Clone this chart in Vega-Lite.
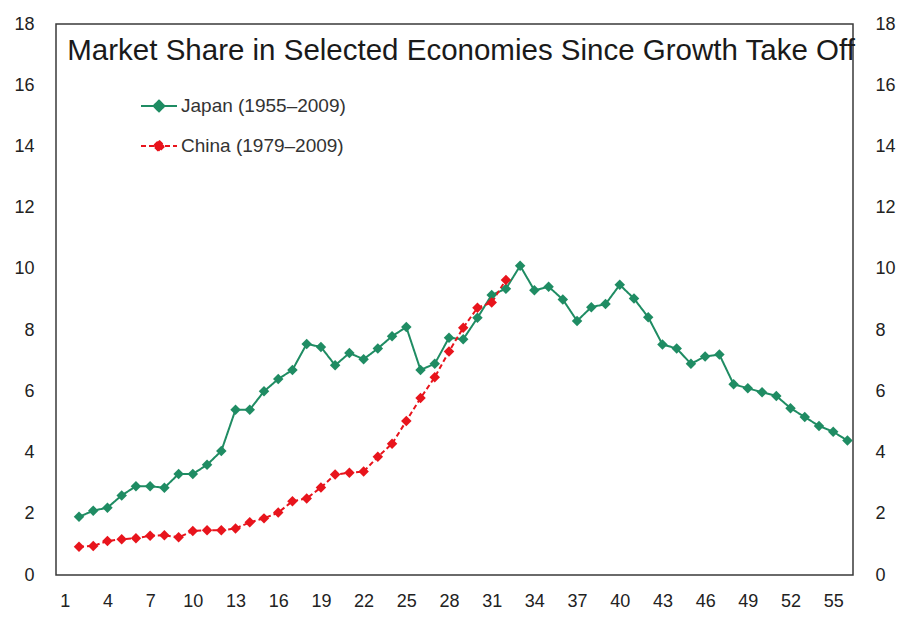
{
  "$schema": "https://vega.github.io/schema/vega-lite/v6.json",
  "width": 797,
  "height": 551,
  "autosize": {"type": "none"},
  "padding": {"left": 56, "top": 24, "right": 63, "bottom": 58},
  "background": "white",
  "config": {
    "view": {"stroke": "#3a3a3a", "strokeWidth": 1.5},
    "axis": {"grid": false, "ticks": false, "tickSize": 0, "domain": false, "labelFont": "Liberation Sans, Arial, sans-serif", "labelFontSize": 18, "labelColor": "#222222", "title": null}
  },
  "datasets": {
    "titles": [
      {"label": "Market Share in Selected Economies Since Growth Take Off", "t": 28.85, "share": 16.82}
    ],
    "shares": [
      {"series": "Japan (1955–2009)", "t": 2, "share": 1.9},
      {"series": "Japan (1955–2009)", "t": 3, "share": 2.1},
      {"series": "Japan (1955–2009)", "t": 4, "share": 2.2},
      {"series": "Japan (1955–2009)", "t": 5, "share": 2.6},
      {"series": "Japan (1955–2009)", "t": 6, "share": 2.9},
      {"series": "Japan (1955–2009)", "t": 7, "share": 2.9},
      {"series": "Japan (1955–2009)", "t": 8, "share": 2.85},
      {"series": "Japan (1955–2009)", "t": 9, "share": 3.3},
      {"series": "Japan (1955–2009)", "t": 10, "share": 3.3},
      {"series": "Japan (1955–2009)", "t": 11, "share": 3.6},
      {"series": "Japan (1955–2009)", "t": 12, "share": 4.05},
      {"series": "Japan (1955–2009)", "t": 13, "share": 5.4},
      {"series": "Japan (1955–2009)", "t": 14, "share": 5.4},
      {"series": "Japan (1955–2009)", "t": 15, "share": 6.0},
      {"series": "Japan (1955–2009)", "t": 16, "share": 6.4},
      {"series": "Japan (1955–2009)", "t": 17, "share": 6.7},
      {"series": "Japan (1955–2009)", "t": 18, "share": 7.55},
      {"series": "Japan (1955–2009)", "t": 19, "share": 7.45},
      {"series": "Japan (1955–2009)", "t": 20, "share": 6.85},
      {"series": "Japan (1955–2009)", "t": 21, "share": 7.25},
      {"series": "Japan (1955–2009)", "t": 22, "share": 7.05},
      {"series": "Japan (1955–2009)", "t": 23, "share": 7.4},
      {"series": "Japan (1955–2009)", "t": 24, "share": 7.8},
      {"series": "Japan (1955–2009)", "t": 25, "share": 8.1},
      {"series": "Japan (1955–2009)", "t": 26, "share": 6.7},
      {"series": "Japan (1955–2009)", "t": 27, "share": 6.9},
      {"series": "Japan (1955–2009)", "t": 28, "share": 7.75},
      {"series": "Japan (1955–2009)", "t": 29, "share": 7.7},
      {"series": "Japan (1955–2009)", "t": 30, "share": 8.4},
      {"series": "Japan (1955–2009)", "t": 31, "share": 9.15},
      {"series": "Japan (1955–2009)", "t": 32, "share": 9.35},
      {"series": "Japan (1955–2009)", "t": 33, "share": 10.1},
      {"series": "Japan (1955–2009)", "t": 34, "share": 9.3},
      {"series": "Japan (1955–2009)", "t": 35, "share": 9.42},
      {"series": "Japan (1955–2009)", "t": 36, "share": 9.0},
      {"series": "Japan (1955–2009)", "t": 37, "share": 8.3},
      {"series": "Japan (1955–2009)", "t": 38, "share": 8.75},
      {"series": "Japan (1955–2009)", "t": 39, "share": 8.85},
      {"series": "Japan (1955–2009)", "t": 40, "share": 9.48},
      {"series": "Japan (1955–2009)", "t": 41, "share": 9.03},
      {"series": "Japan (1955–2009)", "t": 42, "share": 8.42},
      {"series": "Japan (1955–2009)", "t": 43, "share": 7.53},
      {"series": "Japan (1955–2009)", "t": 44, "share": 7.4},
      {"series": "Japan (1955–2009)", "t": 45, "share": 6.9},
      {"series": "Japan (1955–2009)", "t": 46, "share": 7.14},
      {"series": "Japan (1955–2009)", "t": 47, "share": 7.2},
      {"series": "Japan (1955–2009)", "t": 48, "share": 6.23},
      {"series": "Japan (1955–2009)", "t": 49, "share": 6.1},
      {"series": "Japan (1955–2009)", "t": 50, "share": 5.97},
      {"series": "Japan (1955–2009)", "t": 51, "share": 5.85},
      {"series": "Japan (1955–2009)", "t": 52, "share": 5.45},
      {"series": "Japan (1955–2009)", "t": 53, "share": 5.16},
      {"series": "Japan (1955–2009)", "t": 54, "share": 4.87},
      {"series": "Japan (1955–2009)", "t": 55, "share": 4.68},
      {"series": "Japan (1955–2009)", "t": 56, "share": 4.39},
      {"series": "China (1979–2009)", "t": 2, "share": 0.92},
      {"series": "China (1979–2009)", "t": 3, "share": 0.95},
      {"series": "China (1979–2009)", "t": 4, "share": 1.11},
      {"series": "China (1979–2009)", "t": 5, "share": 1.17},
      {"series": "China (1979–2009)", "t": 6, "share": 1.2},
      {"series": "China (1979–2009)", "t": 7, "share": 1.28},
      {"series": "China (1979–2009)", "t": 8, "share": 1.3},
      {"series": "China (1979–2009)", "t": 9, "share": 1.23},
      {"series": "China (1979–2009)", "t": 10, "share": 1.44},
      {"series": "China (1979–2009)", "t": 11, "share": 1.46},
      {"series": "China (1979–2009)", "t": 12, "share": 1.46},
      {"series": "China (1979–2009)", "t": 13, "share": 1.52},
      {"series": "China (1979–2009)", "t": 14, "share": 1.72},
      {"series": "China (1979–2009)", "t": 15, "share": 1.85},
      {"series": "China (1979–2009)", "t": 16, "share": 2.04},
      {"series": "China (1979–2009)", "t": 17, "share": 2.41},
      {"series": "China (1979–2009)", "t": 18, "share": 2.5},
      {"series": "China (1979–2009)", "t": 19, "share": 2.86},
      {"series": "China (1979–2009)", "t": 20, "share": 3.28},
      {"series": "China (1979–2009)", "t": 21, "share": 3.34},
      {"series": "China (1979–2009)", "t": 22, "share": 3.38},
      {"series": "China (1979–2009)", "t": 23, "share": 3.86},
      {"series": "China (1979–2009)", "t": 24, "share": 4.29},
      {"series": "China (1979–2009)", "t": 25, "share": 5.03},
      {"series": "China (1979–2009)", "t": 26, "share": 5.78},
      {"series": "China (1979–2009)", "t": 27, "share": 6.46},
      {"series": "China (1979–2009)", "t": 28, "share": 7.3},
      {"series": "China (1979–2009)", "t": 29, "share": 8.08},
      {"series": "China (1979–2009)", "t": 30, "share": 8.73},
      {"series": "China (1979–2009)", "t": 31, "share": 8.9},
      {"series": "China (1979–2009)", "t": 32, "share": 9.64}
    ]
  },
  "layer": [
    {
      "data": {"name": "shares"},
      "layer": [
        {
          "mark": {"type": "line", "strokeWidth": 2},
          "encoding": {
            "strokeDash": {
              "field": "series", "type": "nominal",
              "scale": {"domain": ["Japan (1955–2009)", "China (1979–2009)"], "range": [[1, 0], [5, 3]]},
              "legend": {
                "orient": "none", "legendX": 84, "legendY": 63, "title": null,
                "symbolType": "M-1,0H1M0,-0.3L0.3,0L0,0.3L-0.3,0Z", "symbolSize": 1296,
                "symbolStrokeWidth": 2, "labelFont": "Liberation Sans, Arial, sans-serif", "labelFontSize": 19,
                "labelColor": "#333333", "labelLimit": 400, "rowPadding": 11, "labelOffset": 3
              }
            }
          }
        },
        {
          "mark": {"type": "point", "shape": "diamond", "filled": true, "size": 110, "opacity": 1}
        }
      ],
      "encoding": {
        "x": {
          "field": "t", "type": "quantitative",
          "scale": {"domain": [0.384, 56.39], "nice": false, "zero": false},
          "axis": {"values": [1, 4, 7, 10, 13, 16, 19, 22, 25, 28, 31, 34, 37, 40, 43, 46, 49, 52, 55], "labelPadding": 17, "labelFlush": false, "labelOverlap": false}
        },
        "y": {
          "field": "share", "type": "quantitative",
          "scale": {"domain": [0, 18], "nice": false},
          "axis": {"orient": "left", "values": [0, 2, 4, 6, 8, 10, 12, 14, 16, 18], "labelPadding": 22, "labelFlush": false}
        },
        "color": {
          "field": "series", "type": "nominal",
          "scale": {"domain": ["Japan (1955–2009)", "China (1979–2009)"], "range": ["#1f8c63", "#e8141c"]},
          "legend": {
            "orient": "none", "legendX": 84, "legendY": 63, "title": null,
            "symbolType": "M-1,0H1M0,-0.3L0.3,0L0,0.3L-0.3,0Z", "symbolSize": 1296,
            "symbolStrokeWidth": 2, "labelFont": "Liberation Sans, Arial, sans-serif", "labelFontSize": 19,
            "labelColor": "#333333", "labelLimit": 400, "rowPadding": 11, "labelOffset": 3,
            "encode": {"symbols": {"update": {"fill": {"scale": "color", "field": "value"}, "stroke": {"scale": "color", "field": "value"}}}}
          }
        }
      }
    },
    {
      "data": {"name": "shares"},
      "mark": {"type": "point", "opacity": 0},
      "encoding": {
        "x": {"field": "t", "type": "quantitative"},
        "y": {
          "field": "share", "type": "quantitative",
          "scale": {"domain": [0, 18], "nice": false},
          "axis": {"orient": "right", "values": [0, 2, 4, 6, 8, 10, 12, 14, 16, 18], "labelPadding": 22, "labelFlush": false}
        }
      }
    },
    {
      "data": {"name": "titles"},
      "mark": {"type": "text", "align": "center", "baseline": "alphabetic", "font": "Liberation Sans, Arial, sans-serif", "fontSize": 29.5, "fill": "#1a1a1a"},
      "encoding": {
        "x": {"field": "t", "type": "quantitative"},
        "y": {"field": "share", "type": "quantitative", "scale": {"domain": [0, 18], "nice": false}, "axis": null},
        "text": {"field": "label", "type": "nominal"}
      }
    }
  ],
  "resolve": {"scale": {"y": "independent"}, "axis": {"y": "independent"}}
}
